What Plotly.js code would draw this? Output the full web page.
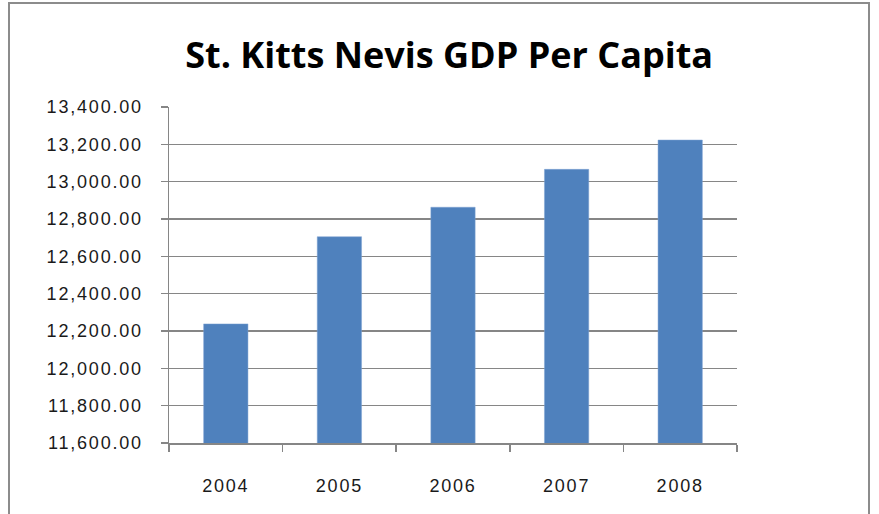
<!DOCTYPE html>
<html>
<head>
<meta charset="utf-8">
<script src="https://cdn.plot.ly/plotly-3.0.1.min.js"></script>
<style>
  html, body { margin: 0; padding: 0; background: #fff; overflow: hidden; }
  #frame { position: absolute; left: 8px; top: 2px; width: 862px; height: 540px; border: 2px solid #8c8c8c; box-sizing: border-box; pointer-events: none; z-index: 5; }
  #chart { width: 879px; height: 514px; }
  #chart .xtick text, #chart .ytick text { letter-spacing: 1.8px; }
</style>
</head>
<body>
<div id="frame"></div>
<div id="chart"></div>
<script>
const years = ["2004", "2005", "2006", "2007", "2008"];
const gdpPerCapita = [12238, 12705, 12863, 13066, 13223];
const yTickValues = [11600, 11800, 12000, 12200, 12400, 12600, 12800, 13000, 13200, 13400];
const chartTitle = "St. Kitts Nevis GDP Per Capita";

const trace = {
  type: "bar",
  x: years,
  y: gdpPerCapita,
  marker: { color: "#4F81BD", line: { color: "#7fa3d3", width: 0.5 } },
  hoverinfo: "x+y"
};

const layout = {
  width: 879,
  height: 514,
  margin: { l: 169, r: 142, t: 107, b: 71, pad: 0 },
  paper_bgcolor: "#ffffff",
  plot_bgcolor: "#ffffff",
  bargap: 0.61,
  showlegend: false,
  title: {
    text: "<b>" + chartTitle + "</b>",
    x: 0.511, xanchor: "center",
    y: 0.893, yanchor: "middle",
    font: { family: "Open Sans, Liberation Sans, sans-serif", size: 36, color: "#000000" }
  },
  xaxis: {
    type: "category",
    showgrid: false,
    showline: true, linecolor: "#868686", linewidth: 1.5,
    ticks: "outside", tickson: "boundaries", ticklen: 7, tickcolor: "#868686", tickwidth: 1.5,
    tickfont: { family: "Liberation Sans, Arial, sans-serif", size: 18, color: "#1a1a1a" },
    ticklabelstandoff: 26
  },
  yaxis: {
    range: [11600, 13400],
    tickmode: "array",
    tickvals: yTickValues,
    tickformat: ",.2f",
    showgrid: true, gridcolor: "#868686", gridwidth: 1.3,
    showline: true, linecolor: "#868686", linewidth: 1.5,
    ticks: "outside", ticklen: 7, tickcolor: "#868686", tickwidth: 1.3,
    tickfont: { family: "Liberation Sans, Arial, sans-serif", size: 18, color: "#1a1a1a" },
    ticklabelstandoff: 14,
    zeroline: false
  }
};

Plotly.newPlot("chart", [trace], layout, { staticPlot: true, displayModeBar: false });
</script>
</body>
</html>
